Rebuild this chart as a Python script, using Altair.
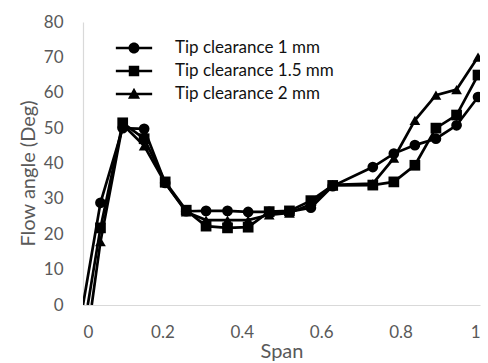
import altair as alt
import pandas as pd

span = [0.044, 0.10, 0.154, 0.207, 0.26, 0.31, 0.364, 0.416, 0.469, 0.52, 0.574, 0.629,
        0.73, 0.783, 0.836, 0.889, 0.941, 0.995]
tc_1 = [28.9, 50.0, 49.8, 34.5, 26.5, 26.6, 26.6, 26.3, 26.3, 26.4, 27.5, 33.6,
        39.0, 42.8, 45.2, 47.0, 50.8, 58.8]
tc_15 = [21.8, 51.5, 47.0, 34.8, 26.8, 22.3, 21.8, 22.0, 26.4, 26.6, 29.5, 33.8,
         33.9, 34.8, 39.5, 50.0, 53.7, 65.0]
tc_2 = [17.9, 51.0, 45.0, 34.5, 26.3, 24.0, 24.0, 24.0, 25.5, 26.0, 28.5, 34.0,
        34.3, 41.5, 52.2, 59.3, 60.9, 70.1]
hub_span = [0.0, 0.012, 0.022]
hub_value = [0.0, 0.0, 0.0]
series = ["Tip clearance 1 mm", "Tip clearance 1.5 mm", "Tip clearance 2 mm"]

rows = []
pts = []
for i, (name, vals) in enumerate(zip(series, [tc_1, tc_15, tc_2])):
    rows.append({"span": hub_span[i], "angle": hub_value[i], "series": name, "order": 0})
    for j, (s, v) in enumerate(zip(span, vals)):
        rows.append({"span": s, "angle": v, "series": name, "order": j + 1})
        pts.append({"span": s, "angle": v, "series": name})
line_df = pd.DataFrame(rows)
pt_df = pd.DataFrame(pts)

FONT = "Lato"

x = alt.X("span:Q", title="Span", scale=alt.Scale(domain=[0, 1], nice=False),
          axis=alt.Axis(values=[0, 0.2, 0.4, 0.6, 0.8, 1], format="~g"))
y = alt.Y("angle:Q", title="Flow angle (Deg)", scale=alt.Scale(domain=[0, 80], nice=False),
          axis=alt.Axis(values=list(range(0, 81, 10)), titleY=151))

lines = alt.Chart(line_df).mark_line(color="black", strokeWidth=2.7, clip=True).encode(
    x=x, y=y, detail="series:N", order="order:Q")

points = alt.Chart(pt_df).mark_point(filled=True, color="black", opacity=1, size=115, clip=True).encode(
    x=x, y=y,
    shape=alt.Shape("series:N", scale=alt.Scale(domain=series, range=["circle", "square", "triangle-up"]),
                    legend=None))

bar = "M-3.3,-0.22H3.3V0.22H-3.3Z"
leg_paths = [
    bar + "M1,0A1,1,0,1,1,-1,0A1,1,0,1,1,1,0Z",
    bar + "M-0.95,-0.95H0.95V0.95H-0.95Z",
    bar + "M0,-1.15L1.1,0.85H-1.1Z",
]
legend_layer = alt.Chart(pt_df).mark_point(filled=True, color="black", opacity=0, size=1).encode(
    x=x, y=y,
    shape=alt.Shape("series:N", scale=alt.Scale(domain=series, range=leg_paths),
                    legend=alt.Legend(title=None, orient="none", legendX=42.5, legendY=17.5,
                                      symbolSize=121, symbolOpacity=1,
                                      symbolFillColor="black", symbolStrokeColor="black",
                                      symbolStrokeWidth=0, labelOffset=32.5,
                                      labelFont=FONT, labelFontSize=17, labelColor="#111111",
                                      rowPadding=5, labelLimit=300)))

chart = alt.layer(lines, points, legend_layer).resolve_scale(shape="independent").properties(
    width=397, height=283,
    padding={"left": 83, "top": 22, "right": 8, "bottom": 58},
    autosize="none",
).configure_view(stroke=None).configure_axis(
    domainColor="#d9d9d9", domainWidth=1.2, grid=False, ticks=False,
    labelFont=FONT, labelFontSize=17, labelColor="#595959",
    titleFont=FONT, titleFontSize=20, titleColor="#595959", titleFontWeight="normal",
).configure_axisX(labelPadding=19, titlePadding=1).configure_axisY(labelPadding=20, titlePadding=5)

chart.save("out.html", embed_options={"renderer": "svg", "actions": False})
